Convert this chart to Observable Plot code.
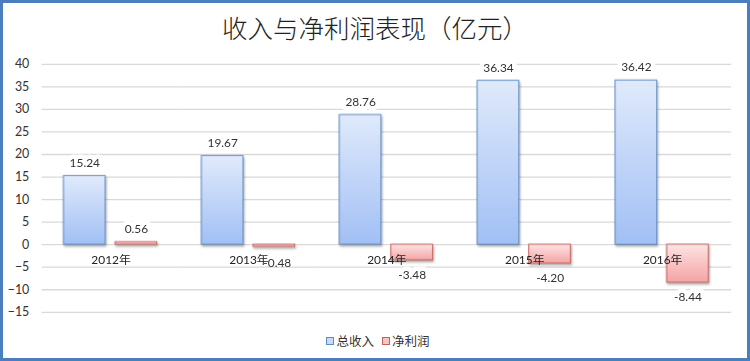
<!DOCTYPE html>
<html>
<head>
<meta charset="utf-8">
<script src="https://cdn.jsdelivr.net/npm/d3@7"></script>
<script src="https://cdn.jsdelivr.net/npm/@observablehq/plot@0.6"></script>
<style>
  html, body { margin: 0; padding: 0; background: #fff; }
  #frame {
    position: relative; width: 750px; height: 361px; box-sizing: border-box;
    border: 3px solid #4a7ebf; margin-top: 0; overflow: hidden;
    font-family: Lato, "Noto Sans CJK SC", sans-serif;
  }
  #title {
    position: absolute; left: 0; top: 8px; width: 744px; text-align: center;
    font-family: "Noto Sans CJK SC", sans-serif; font-weight: 300;
    font-size: 25.5px; line-height: 32px; color: #222;
  }
  #chart { position: absolute; left: -3px; top: 37px; }
  #legend {
    position: absolute; left: 0; width: 750px; top: 330px; text-align: center;
    font-family: "Noto Sans CJK SC", sans-serif; font-size: 12.5px; color: #333; line-height: 16px;
  }
  .sw { display: inline-block; width: 6px; height: 6px; border: 1px solid; margin-right: 2px; vertical-align: 1px; }
  .item { margin: 0 4px; }
</style>
</head>
<body>
<div id="frame">
  <div id="title">收入与净利润表现（亿元）</div>
  <div id="chart"></div>
  <div id="legend"></div>
</div>
<script>
const years = ["2012年", "2013年", "2014年", "2015年", "2016年"];
const seriesNames = ["总收入", "净利润"];
const revenue = [15.24, 19.67, 28.76, 36.34, 36.42];
const profit = [0.56, -0.48, -3.48, -4.20, -8.44];
const yTicks = [-15, -10, -5, 0, 5, 10, 15, 20, 25, 30, 35, 40];

const rows = years.flatMap((yr, i) => [
  {year: yr, series: seriesNames[0], value: revenue[i]},
  {year: yr, series: seriesNames[1], value: profit[i]}
]);
const revRows = rows.filter(d => d.series === seriesNames[0]);
const proRows = rows.filter(d => d.series === seriesNames[1]);

const labelStyle = {
  fx: "year", x: "series", y: "value",
  text: d => d.value.toFixed(2),
  fill: "#333", stroke: "white", strokeWidth: 9, paintOrder: "stroke",
  fontSize: 12
};

const chart = Plot.plot({
  width: 753, height: 292,
  marginLeft: 40, marginRight: 15, marginTop: 24, marginBottom: 18,
  style: {fontFamily: "Lato, 'Noto Sans CJK SC', sans-serif", fontSize: "12px", color: "#333", background: "transparent", overflow: "visible"},
  fx: {domain: years, padding: 0, axis: null, label: null},
  x: {domain: seriesNames, paddingInner: 0.19, paddingOuter: 0.415, axis: null, label: null},
  y: {domain: [-15, 40], label: null},
  marks: [
    Plot.gridY(yTicks, {stroke: "#d9d9d9", strokeOpacity: 1, strokeWidth: 1.3}),
    Plot.axisY(yTicks, {tickSize: 0, tickPadding: 13, fontSize: 12.5, fill: "#333", label: null}),
    Plot.barY(revRows, {fx: "year", x: "series", y: "value", fill: "url(#gBlue)", stroke: "#5f8cc8", strokeWidth: 1}),
    Plot.barY(proRows, {fx: "year", x: "series", y: "value", fill: "url(#gRed)", stroke: "#c8605c", strokeWidth: 1}),
    Plot.text(revRows, {...labelStyle, dy: -13}),
    Plot.text(proRows.filter(d => d.value >= 0), {...labelStyle, dy: -13}),
    Plot.text(proRows.filter(d => d.value < 0 && d.value > -1), {...labelStyle, dy: 16, dx: 3, strokeWidth: 0}),
    Plot.text(proRows.filter(d => d.value <= -1), {...labelStyle, dy: 15}),
    Plot.text(years, {fx: d => d, y: () => 0, text: d => d, dy: 16, fill: "#222", fontSize: 12})
  ]
});

const svg = d3.select(chart);
const defs = svg.insert("defs", ":first-child");
const gb = defs.append("linearGradient").attr("id", "gBlue").attr("x1", 0).attr("y1", 0).attr("x2", 0).attr("y2", 1);
gb.append("stop").attr("offset", "0%").attr("stop-color", "#e0eafb");
gb.append("stop").attr("offset", "100%").attr("stop-color", "#a2c0f5");
const gr = defs.append("linearGradient").attr("id", "gRed").attr("x1", 0).attr("y1", 0).attr("x2", 0).attr("y2", 1);
gr.append("stop").attr("offset", "0%").attr("stop-color", "#fde4e4");
gr.append("stop").attr("offset", "100%").attr("stop-color", "#f5a4a4");
svg.selectAll("g[aria-label='bar']").style("filter", "drop-shadow(1px 2px 1.2px rgba(0,0,0,0.3))");

document.getElementById("chart").appendChild(chart);

const legend = document.getElementById("legend");
const swatch = [["#c9dbf7", "#5f8cc8"], ["#f8c4c4", "#c8605c"]];
seriesNames.forEach((name, i) => {
  const item = document.createElement("span");
  item.className = "item";
  const sw = document.createElement("span");
  sw.className = "sw";
  sw.style.background = swatch[i][0];
  sw.style.borderColor = swatch[i][1];
  item.appendChild(sw);
  item.appendChild(document.createTextNode(name));
  legend.appendChild(item);
});
</script>
</body>
</html>
